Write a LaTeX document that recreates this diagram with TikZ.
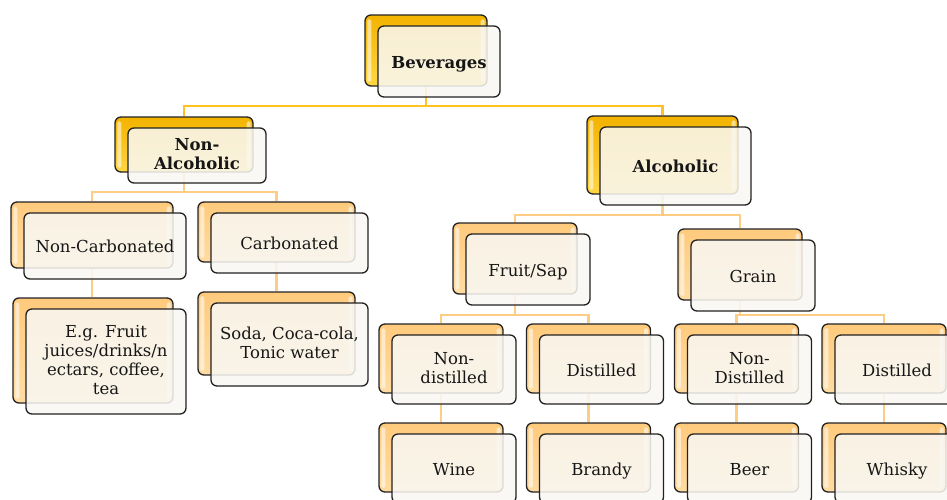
\documentclass[tikz,border=0pt]{standalone}
\usepackage{fontspec}
\setmainfont{DejaVu Serif}
\usetikzlibrary{backgrounds}
\definecolor{linec}{HTML}{222222}
\definecolor{goldA}{HTML}{F3B300}
\definecolor{goldB}{HTML}{FFD642}
\definecolor{orA}{HTML}{FFCA7C}
\definecolor{orB}{HTML}{FFDCA2}
\definecolor{frontc}{HTML}{F9F8F4}
\definecolor{textc}{HTML}{161616}
\definecolor{topconnc}{HTML}{FFC220}
\definecolor{connc}{HTML}{FDCD84}
\newcommand\bvstrut{\rule[-4pt]{0pt}{21pt}}
\tikzset{
  backtop/.style={draw=linec, line width=1.3pt, rounded corners=6pt, top color=goldA, bottom color=goldB, inner sep=0pt},
  backlow/.style={draw=linec, line width=1.3pt, rounded corners=6pt, top color=orA, bottom color=orB, inner sep=0pt},
  frontbox/.style={draw=linec, line width=1.3pt, rounded corners=6pt, fill=frontc, fill opacity=.86, text opacity=1, align=center, text=textc, inner sep=1pt, execute at begin node=\bvstrut, execute at end node=\bvstrut},
  gloss/.style={fill=white, opacity=.55, rounded corners=1.5pt},
  topconn/.style={draw=topconnc, line width=2.2pt},
  conn/.style={draw=connc, line width=2.2pt},
}
% #1 name, #2 cx, #3 cy, #4 w, #5 h, #6 back style, #7 text
\newcommand\bvbox[7]{%
  \node[#6, minimum width=#4pt, minimum height=#5pt] (#1b) at (#2,#3) {};
  \fill[gloss] ([xshift=3pt,yshift=-5pt]#1b.north west) rectangle ([xshift=7pt,yshift=5pt]#1b.south west);
  \fill[gloss] ([xshift=-7pt,yshift=-5pt]#1b.north east) rectangle ([xshift=-3pt,yshift=5pt]#1b.south east);
  \node[frontbox, minimum width=#4pt, minimum height=#5pt] (#1) at (#2+13,#3+11) {#7};
}
\begin{document}
\begin{tikzpicture}[x=1pt,y=-1pt, font=\fontsize{16.5}{19}\selectfont]
\useasboundingbox (0,0) rectangle (947,499);
\clip (0,0) rectangle (947,499);

\bvbox{bev}{426}{50.5}{122}{71}{backtop}{\bfseries Beverages}
\bvbox{na}{184}{144.5}{138}{55}{backtop}{\bfseries Non-\\\bfseries Alcoholic}
\bvbox{al}{662.5}{155}{151}{78}{backtop}{\bfseries Alcoholic}
\bvbox{nc}{92}{235}{162}{66}{backlow}{Non-Carbonated}
\bvbox{ca}{276.5}{232}{157}{60}{backlow}{Carbonated}
\bvbox{eg}{93}{350.5}{160}{105}{backlow}{E.g. Fruit\\juices/drinks/n\\ectars, coffee,\\tea}
\bvbox{so}{276.5}{333.5}{157}{83}{backlow}{Soda, Coca-cola,\\Tonic water}
\bvbox{fs}{515}{258.5}{124}{71}{backlow}{Fruit/Sap}
\bvbox{gr}{740}{264.5}{124}{71}{backlow}{Grain}
\bvbox{ndf}{441}{358.5}{124}{69}{backlow}{Non-\\distilled}
\bvbox{df}{588.5}{358.5}{124}{69}{backlow}{Distilled}
\bvbox{ndg}{736.5}{358.5}{124}{69}{backlow}{Non-\\Distilled}
\bvbox{dg}{884}{358.5}{124}{69}{backlow}{Distilled}
\bvbox{wi}{441}{457.5}{124}{69}{backlow}{Wine}
\bvbox{br}{588.5}{457.5}{124}{69}{backlow}{Brandy}
\bvbox{be}{736.5}{457.5}{124}{69}{backlow}{Beer}
\bvbox{wh}{884}{457.5}{124}{69}{backlow}{Whisky}

\coordinate (bus0) at (0,106);
\coordinate (bus1) at (0,192);
\coordinate (bus2) at (0,215);
\coordinate (bus3) at (0,315);

\begin{scope}[on background layer]
  \fill[white] (0,0) rectangle (947,499);
  \draw[topconn] (bevb.south) -- (bevb.south |- bus0) -| (nab.north);
  \draw[topconn] (bevb.south |- bus0) -| (alb.north);
  \draw[conn] (nab.south) -- (nab.south |- bus1) -| (ncb.north);
  \draw[conn] (nab.south |- bus1) -| (cab.north);
  \draw[conn] (ncb.south) -- (ncb.south |- egb.north);
  \draw[conn] (cab.south) -- (cab.south |- sob.north);
  \draw[conn] (alb.south) -- (alb.south |- bus2) -| (fsb.north);
  \draw[conn] (alb.south |- bus2) -| (grb.north);
  \draw[conn] (fsb.south) -- (fsb.south |- bus3) -| (ndfb.north);
  \draw[conn] (fsb.south |- bus3) -| (dfb.north);
  \draw[conn] (grb.south) -- (grb.south |- bus3) -| (ndgb.north);
  \draw[conn] (grb.south |- bus3) -| (dgb.north);
  \draw[conn] (ndfb.south) -- (wib.north);
  \draw[conn] (dfb.south) -- (brb.north);
  \draw[conn] (ndgb.south) -- (beb.north);
  \draw[conn] (dgb.south) -- (whb.north);
\end{scope}
\end{tikzpicture}
\end{document}
